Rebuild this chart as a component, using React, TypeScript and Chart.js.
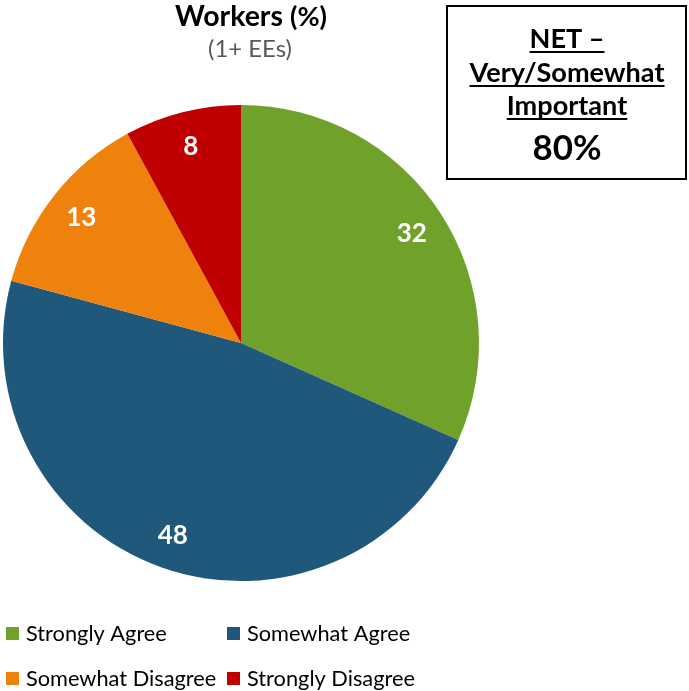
import React, { useEffect, useRef } from "react";
import { Chart, registerables } from "chart.js";

Chart.register(...registerables);

const categories = ["Strongly Agree", "Somewhat Agree", "Somewhat Disagree", "Strongly Disagree"];
const values = [32, 48, 13, 8];
const colors = ["#6FA12B", "#1F587A", "#EF820D", "#C00000"];
const titleMain = "Workers";
const titleUnit = "(%)";
const subtitle = "(1+ EEs)";
const netLines = ["NET \u2013", "Very/Somewhat", "Important"];
const netValue = "80%";

const FONT = "Lato, 'Open Sans', sans-serif";

function fitFont(ctx: CanvasRenderingContext2D, text: string, width: number, weight: string) {
  ctx.font = `${weight} 100px ${FONT}`;
  const w = ctx.measureText(text).width;
  const size = (100 * width) / w;
  ctx.font = `${weight} ${size}px ${FONT}`;
  return size;
}

const overlayPlugin = {
  id: "overlay",
  afterDraw(chart: any) {
    const ctx = chart.ctx as CanvasRenderingContext2D;
    const meta = chart.getDatasetMeta(0);
    ctx.save();
    // data labels
    ctx.fillStyle = "#FFFFFF";
    ctx.font = `bold 26px ${FONT}`;
    ctx.textAlign = "center";
    ctx.textBaseline = "middle";
    meta.data.forEach((arc: any, i: number) => {
      const { x, y, startAngle, endAngle, outerRadius } = arc.getProps(
        ["x", "y", "startAngle", "endAngle", "outerRadius"],
        true
      );
      const mid = (startAngle + endAngle) / 2;
      const r = outerRadius * 0.855;
      ctx.fillText(String(values[i]), x + Math.cos(mid) * r, y + Math.sin(mid) * r + 1);
    });

    // title
    ctx.textBaseline = "alphabetic";
    ctx.textAlign = "left";
    ctx.fillStyle = "#000";
    fitFont(ctx, titleMain, 108, "bold");
    ctx.fillText(titleMain, 175, 26);
    fitFont(ctx, titleUnit, 37, "bold");
    ctx.fillText(titleUnit, 290, 26);
    ctx.fillStyle = "#595959";
    fitFont(ctx, subtitle, 84, "normal");
    ctx.fillText(subtitle, 208, 57);

    // NET box
    ctx.strokeStyle = "#000";
    ctx.lineWidth = 2;
    ctx.strokeRect(447, 6, 239, 173);
    ctx.fillStyle = "#000";
    ctx.textAlign = "center";
    const size = fitFont(ctx, netLines[1], 195, "bold");
    ctx.font = `bold ${size}px ${FONT}`;
    const ys = [48, 82, 115];
    netLines.forEach((t, i) => {
      ctx.fillText(t, 567, ys[i]);
      const w = ctx.measureText(t).width;
      ctx.fillRect(567 - w / 2, ys[i] + 3, w, 2);
    });
    fitFont(ctx, netValue, 69, "bold");
    ctx.fillText(netValue, 567, 160);

    // legend
    const ls = fitFont(ctx, categories[0], 141, "normal");
    ctx.font = `${ls}px ${FONT}`;
    ctx.textAlign = "left";
    ctx.textBaseline = "middle";
    const pos = [
      [6, 634],
      [227, 634],
      [6, 679],
      [227, 679],
    ];
    categories.forEach((c, i) => {
      const [lx, ly] = pos[i];
      ctx.fillStyle = colors[i];
      ctx.fillRect(lx, ly - 7, 13, 13);
      ctx.fillStyle = "#000";
      ctx.fillText(c, lx + 20, ly);
    });
    ctx.restore();
  },
};

export default function App() {
  const ref = useRef<HTMLCanvasElement>(null);
  useEffect(() => {
    if (!ref.current) return;
    const chart = new Chart(ref.current, {
      type: "pie",
      data: {
        labels: categories,
        datasets: [
          {
            data: values,
            backgroundColor: colors,
            borderWidth: 0,
          },
        ],
      },
      options: {
        animation: false,
        responsive: false,
        layout: { padding: { left: 3, right: 210, top: 105, bottom: 110 } },
        plugins: {
          legend: { display: false },
          tooltip: { enabled: false },
        },
      },
      plugins: [overlayPlugin],
    });
    return () => chart.destroy();
  }, []);
  return (
    <div style={{ position: "absolute", left: 0, top: 0, width: 689, height: 691, background: "#fff" }}>
      <canvas ref={ref} width={689} height={691} style={{ width: 689, height: 691 }} />
    </div>
  );
}
